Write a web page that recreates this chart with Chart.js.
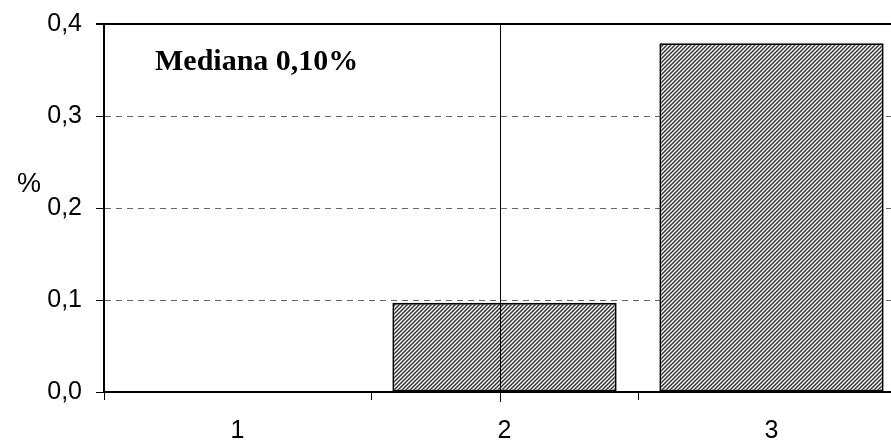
<!DOCTYPE html>
<html>
<head>
<meta charset="utf-8">
<script src="https://cdn.jsdelivr.net/npm/chart.js@4"></script>
<style>
  html, body { margin: 0; padding: 0; background: #fff; overflow: hidden; width: 891px; height: 443px; }
  #wrap { width: 910px; height: 443px; }
</style>
</head>
<body>
<div id="wrap"><canvas id="chart"></canvas></div>
<script>
const categories = ['1', '2', '3'];
const values = [0, 0.097, 0.379];
const yTicks = [0, 0.1, 0.2, 0.3, 0.4];
const medianLabel = 'Mediana 0,10%';
const medianIndex = 0.985; // position of the median line on the category axis

// diagonal hatch fill
function hatch() {
    const c = document.createElement('canvas');
    c.width = 4; c.height = 4;
    const g = c.getContext('2d');
    g.fillStyle = '#fff';
    g.fillRect(0, 0, 4, 4);
    g.strokeStyle = '#333';
    g.lineWidth = 1.5;
    g.beginPath();
    g.moveTo(-1, 5); g.lineTo(5, -1);
    g.moveTo(-1, 1); g.lineTo(1, -1);
    g.moveTo(3, 5); g.lineTo(5, 3);
    g.stroke();
    return g.createPattern(c, 'repeat');
}

const extras = {
    id: 'extras',
    afterDraw(chart) {
        const ctx = chart.ctx;
        const area = chart.chartArea;
        const x = chart.scales.x;
        ctx.save();
        // top border
        ctx.strokeStyle = '#000';
        ctx.lineWidth = 2;
        ctx.beginPath();
        ctx.moveTo(area.left - 8, area.top);
        ctx.lineTo(area.right, area.top);
        ctx.stroke();
        // median line
        const mx = Math.round(x.getPixelForValue(medianIndex)) + 0.5;
        ctx.lineWidth = 1;
        ctx.beginPath();
        ctx.moveTo(mx, area.top);
        ctx.lineTo(mx, area.bottom + 10);
        ctx.stroke();
        // labels
        ctx.fillStyle = '#000';
        ctx.font = 'bold 30px "Liberation Serif", serif';
        ctx.textBaseline = 'middle';
        ctx.textAlign = 'left';
        ctx.fillText(medianLabel, 155, 62);
        ctx.font = '27px "Liberation Sans", Arial, sans-serif';
        ctx.fillText('%', 17, 185);
        ctx.restore();
    }
};

new Chart(document.getElementById('chart'), {
    type: 'bar',
    data: {
        labels: categories,
        datasets: [{
            data: values,
            backgroundColor: hatch(),
            borderColor: '#000',
            borderWidth: 2,
            borderSkipped: false,
            categoryPercentage: 1,
            barPercentage: 0.84
        }]
    },
    options: {
        responsive: true,
        maintainAspectRatio: false,
        animation: false,
        devicePixelRatio: 1,
        layout: { padding: { top: 24, right: 5, left: 0, bottom: 0 } },
        plugins: { legend: { display: false }, tooltip: { enabled: false } },
        scales: {
            x: {
                afterFit(s) { s.height = 51; s.paddingLeft = 0; s.paddingRight = 0; },
                grid: { offset: true, drawOnChartArea: false, color: '#000', lineWidth: 1, tickLength: 8 },
                border: { color: '#000', width: 2 },
                ticks: { color: '#000', padding: 16, font: { family: '"Liberation Sans", Arial, sans-serif', size: 25 } }
            },
            y: {
                min: 0,
                max: 0.4,
                afterFit(s) { s.width = 104; s.paddingTop = 0; s.paddingBottom = 0; },
                afterBuildTicks(s) { s.ticks = yTicks.map(v => ({ value: v })); },
                grid: {
                    color: ctx => (ctx.tick && (ctx.tick.value === 0 || ctx.tick.value === 0.4)) ? 'rgba(0,0,0,0)' : '#666',
                    tickColor: '#000',
                    lineWidth: 1,
                    tickLength: 8
                },
                border: { color: '#000', width: 2, dash: [6, 5] },
                ticks: {
                    color: '#000',
                    padding: 14,
                    font: { family: '"Liberation Sans", Arial, sans-serif', size: 25 },
                    callback: v => v.toFixed(1).replace('.', ',')
                }
            }
        }
    },
    plugins: [extras]
});
</script>
</body>
</html>
